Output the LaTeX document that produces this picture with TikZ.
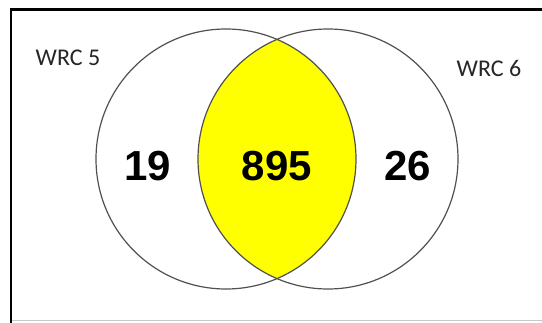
\documentclass[tikz,border=0pt]{standalone}
\usepackage{fontspec}
\newfontfamily\labelfont{Carlito}
\newfontfamily\countfont{Liberation Sans}
\usepackage{xcolor}
\definecolor{ringgrey}{HTML}{505050}
\definecolor{framegrey}{HTML}{C8C8C8}
\definecolor{overlapyellow}{RGB}{255,255,0}

\begin{document}
\begin{tikzpicture}[
    x=1pt, y=-1pt,
    ring/.style={circle, draw=ringgrey, line width=1.2pt,
      minimum size=260pt, inner sep=0pt},
    setlabel/.style={font=\labelfont\fontsize{24}{28}\selectfont, text=black!85},
    count/.style={font=\countfont\bfseries\fontsize{42}{48}\selectfont},
  ]
    \useasboundingbox (0,0) rectangle (542,323);
    % frame
    \draw[framegrey, line width=1pt] (11,321) -- (560,321);
    \draw[black, line width=2.6pt] (11,323) -- (11,9.5) -- (560,9.5);

    % overlap
    \begin{scope}
      \clip (226,159) circle (130pt);
      \fill[overlapyellow] (328,159) circle (130pt);
    \end{scope}

    \node[ring] (wrc5) at (226,159) {};
    \node[ring] (wrc6) at (328,159) {};

    \node[setlabel] (name5) at (68,58) {WRC 5};
    \node[setlabel] (name6) at (489,68) {WRC 6};

    \node[count] (only5) at (147.5,166.5) {19};
    \node[count] (both) at (277,166.5) {895};
    \node[count] (only6) at (407.5,166.5) {26};
\end{tikzpicture}
\end{document}
